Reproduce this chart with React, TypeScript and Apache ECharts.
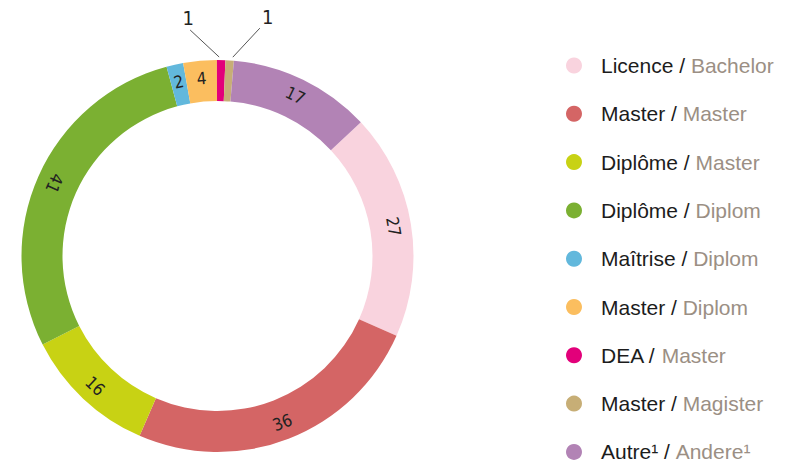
import React, { useEffect, useRef } from "react";
import * as echarts from "echarts";

const categories = [
  "Licence / Bachelor",
  "Master / Master",
  "Diplôme / Master",
  "Diplôme / Diplom",
  "Maîtrise / Diplom",
  "Master / Diplom",
  "DEA / Master",
  "Master / Magister",
  "Autre¹ / Andere¹",
];
const values = [27, 36, 16, 41, 2, 4, 1, 1, 17];
const colors = [
  "#f9d3de",
  "#d46565",
  "#c8d214",
  "#7bb032",
  "#62b8dc",
  "#fbbe5f",
  "#e2007a",
  "#c7ae76",
  "#b283b5",
];
const outsideLabelIdx = [6, 7];
const START_ANGLE = 43;

const labelFont = "'Liberation Sans Narrow', 'DejaVu Sans Condensed', 'Roboto Condensed', sans-serif";
const legendFont = "'Liberation Sans', Arial, sans-serif";

function labelRotation(i: number): number {
  const total = values.reduce((a, b) => a + b, 0);
  let cum = 0;
  for (let k = 0; k < i; k++) cum += values[k];
  const theta = ((90 - START_ANGLE) + ((cum + values[i] / 2) / total) * 360) % 360;
  if (theta > 90 && theta < 330) return 180 - theta;
  return -theta;
}

export default function App() {
  const ref = useRef<HTMLDivElement>(null);
  useEffect(() => {
    document.body.style.margin = "0";
    if (!ref.current) return;
    const chart = echarts.init(ref.current, undefined, { renderer: "svg" });
    const data = categories.map((name, i) => {
      const outside = outsideLabelIdx.includes(i);
      return {
        name,
        value: values[i],
        itemStyle: { color: colors[i] },
        label: outside
          ? {
              position: "outside",
              rotate: 0,
              fontSize: 20,
              fontFamily: labelFont,
              color: "#222",
            }
          : { rotate: labelRotation(i) },
        labelLine: outside
          ? { show: true, lineStyle: { color: "#555", width: 1 } }
          : { show: false },
      };
    });
    chart.setOption({
      animation: false,
      legend: {
        orient: "vertical",
        left: 566,
        top: 55,
        padding: 0,
        itemWidth: 16,
        itemHeight: 16,
        itemGap: 27.3,
        icon: "circle",
        selectedMode: false,
        data: categories,
        formatter: (name: string) => {
          const parts = name.split(" / ");
          return `{a|${parts[0]} /} {b|${parts[1]}}`;
        },
        textStyle: {
          fontSize: 21,
          fontFamily: legendFont,
          rich: {
            a: {
              fontSize: 21,
              lineHeight: 20,
              color: "#1c1c1c",
              padding: [0, 0, 0, 14],
              fontFamily: legendFont,
            },
            b: {
              fontSize: 21,
              lineHeight: 20,
              color: "#9b8f84",
              fontFamily: legendFont,
            },
          },
        },
      },
      series: [
        {
          type: "pie",
          center: [217.5, 256],
          radius: [155, 196],
          startAngle: START_ANGLE,
          clockwise: true,
          avoidLabelOverlap: false,
          emphasis: { disabled: true },
          data,
          label: {
            show: true,
            position: "inside",
            formatter: "{c}",
            fontSize: 17,
            fontFamily: labelFont,
            color: "#222",
          },
          labelLayout: (params: any) => {
            const i = params.dataIndex;
            if (!outsideLabelIdx.includes(i)) return {};
            const r = params.rect;
            const cx = r.x + r.width / 2;
            if (i === 6) {
              const sx = cx - 2;
              const sy = r.y - 3;
              const ex = sx - 29;
              const ey = sy - 27;
              return {
                x: ex - 2,
                y: ey - 12,
                align: "center",
                verticalAlign: "middle",
                labelLinePoints: [
                  [sx, sy],
                  [ex, ey],
                ],
              };
            }
            const sx = cx + 4;
            const sy = r.y - 3;
            const ex = sx + 27;
            const ey = sy - 29;
            return {
              x: ex + 8,
              y: ey - 11,
              align: "center",
              verticalAlign: "middle",
              labelLinePoints: [
                [sx, sy],
                [ex, ey],
              ],
            };
          },
        },
      ],
    });
    return () => chart.dispose();
  }, []);
  return <div ref={ref} style={{ width: 785, height: 476 }} />;
}
